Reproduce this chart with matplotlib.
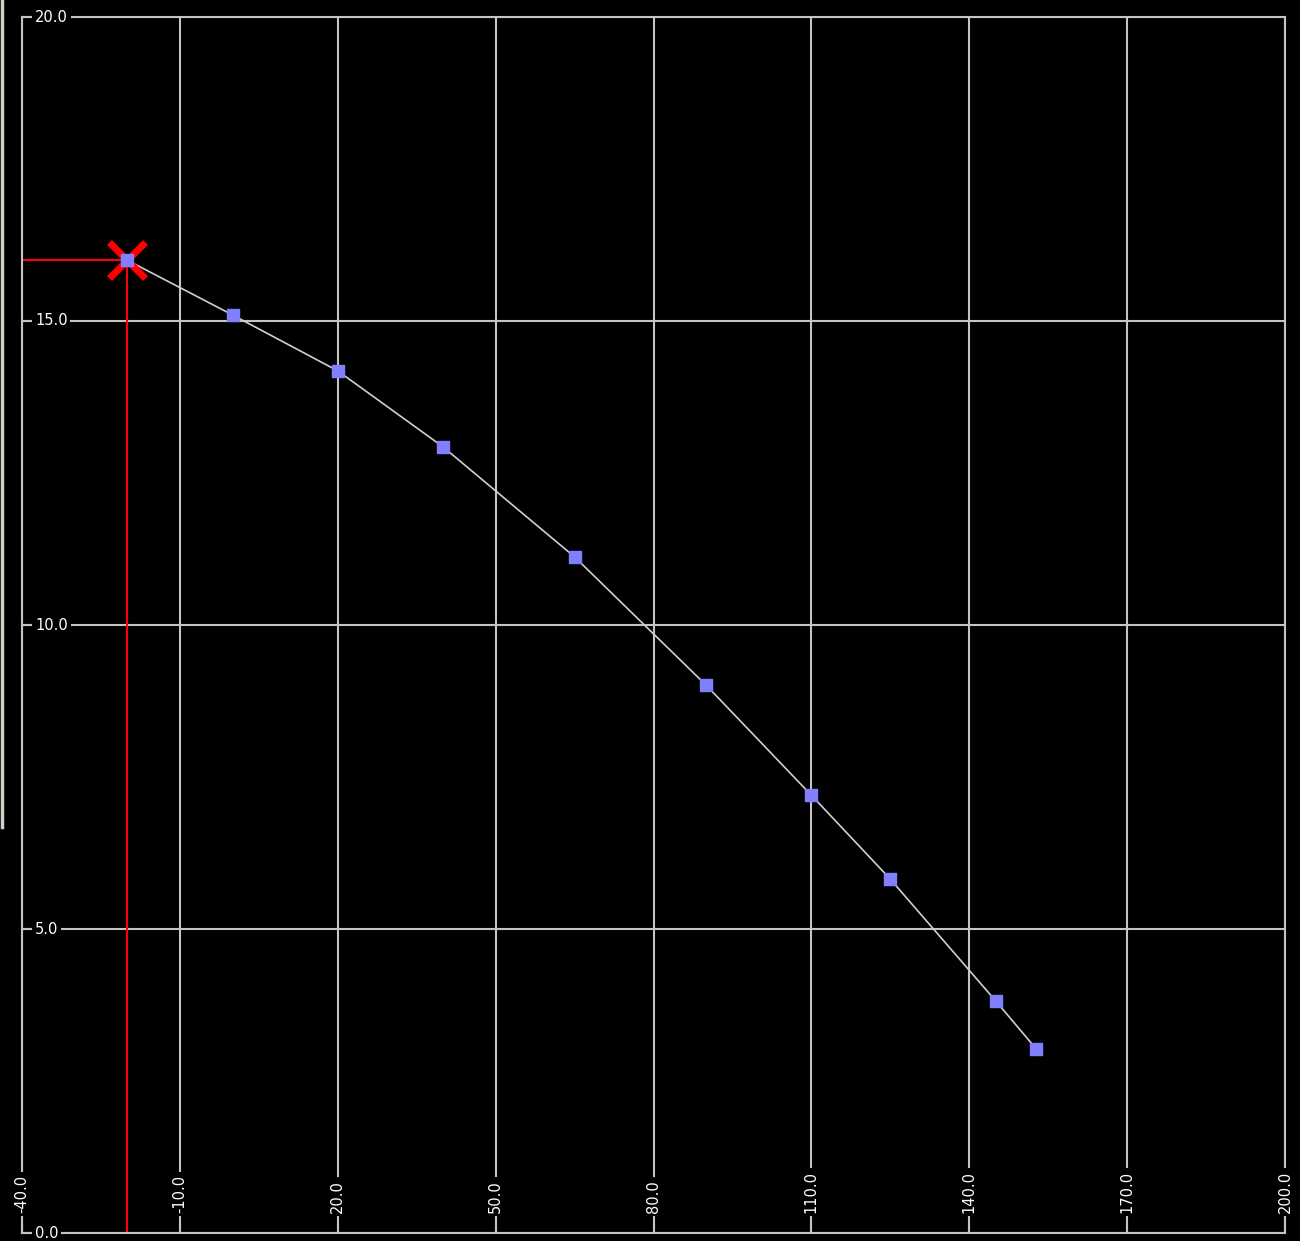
import matplotlib
matplotlib.use("Agg")
import matplotlib.pyplot as plt
import matplotlib.transforms as mtransforms
from matplotlib.lines import Line2D

# data
xs = [-20.0, 0.0, 20.0, 40.0, 65.0, 90.0, 110.0, 125.0, 145.0, 152.7]
ys = [16.0, 15.1, 14.18, 12.93, 11.12, 9.01, 7.2, 5.82, 3.82, 3.03]
sel_x, sel_y = -20.0, 16.0
x_ticks = [-40.0, -10.0, 20.0, 50.0, 80.0, 110.0, 140.0, 170.0, 200.0]
y_ticks = [0.0, 5.0, 10.0, 15.0, 20.0]

W, H = 1300, 1241
fig = plt.figure(figsize=(W / 100, H / 100), dpi=100, facecolor="black")
ax = fig.add_axes([22 / W, 8 / H, 1263 / W, 1216 / H], facecolor="black")
ax.set_xlim(-40, 200)
ax.set_ylim(0, 20)

grid_c = "#c4c4c4"
for v in x_ticks:
    ax.axvline(v, color=grid_c, lw=1.5, zorder=1)
for v in y_ticks:
    ax.axhline(v, color=grid_c, lw=1.5, zorder=1)
for s in ax.spines.values():
    s.set_color(grid_c)
    s.set_linewidth(1.5)

ax.set_xticks(x_ticks)
ax.set_yticks(y_ticks)
ax.tick_params(axis="both", direction="in", colors=grid_c, labelleft=False,
               labelbottom=False, width=1.5)
ax.tick_params(axis="x", length=8)
ax.tick_params(axis="y", length=5)

# selection crosshair
ax.plot([-40, sel_x], [sel_y, sel_y], color="red", lw=1.5, zorder=2)
ax.plot([sel_x, sel_x], [0, sel_y], color="red", lw=1.5, zorder=2)

ax.plot(xs, ys, color="#d0d0d0", lw=1.2, zorder=3)
ax.plot(xs, ys, ls="none", marker="s", ms=8, mfc="#8080ff", mec="#8080ff", zorder=4)
ax.plot([sel_x], [sel_y], marker="x", ms=26, mew=5, color="red", zorder=3.5)

box = dict(facecolor="black", edgecolor="none", pad=2)
ytr = mtransforms.blended_transform_factory(ax.transAxes, ax.transData)
for v in y_ticks:
    ax.text(13 / 1263, v, f"{v:.1f}", transform=ytr, color="white", fontsize=10.5,
            ha="left", va="center", bbox=box, zorder=5, clip_on=False)
xtr = mtransforms.blended_transform_factory(ax.transData, ax.transAxes)
for v in x_ticks:
    ax.text(v, 20 / 1216, f"{v:.1f}", transform=xtr, color="white", fontsize=10.5,
            rotation=90, ha="center", va="bottom", bbox=box, zorder=5, clip_on=False)

fig.add_artist(Line2D([2 / W, 2 / W], [1, 1 - 827 / H], color="#d4d0c8", lw=2.5,
                      transform=fig.transFigure))

fig.savefig("out.png", dpi=100, facecolor="black")
